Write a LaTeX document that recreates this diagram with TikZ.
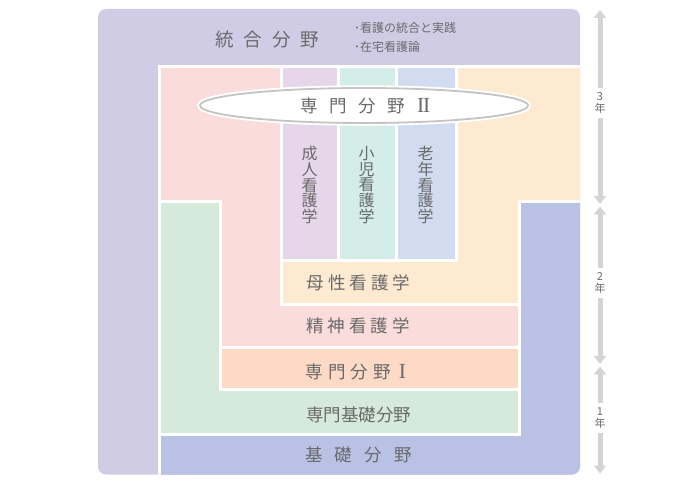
\documentclass[tikz,border=0pt]{standalone}
\usepackage{fontspec}
\setmainfont{Noto Sans CJK JP}
\newfontfamily\numserif{Liberation Serif}
\usetikzlibrary{arrows.meta,shapes.geometric}
\definecolor{lav}{HTML}{D1CCE6}
\definecolor{pinkc}{HTML}{FADCDB}
\definecolor{greenc}{HTML}{D6EADB}
\definecolor{bluec}{HTML}{B9C2E4}
\definecolor{peachc}{HTML}{FDEAD0}
\definecolor{orangec}{HTML}{FCDAC5}
\definecolor{colA}{HTML}{E6D6E9}
\definecolor{colB}{HTML}{D4EDE8}
\definecolor{colC}{HTML}{D2DCF1}
\definecolor{txt}{HTML}{6A6A6A}
\definecolor{ellgray}{HTML}{C4C4C4}
\definecolor{arrgray}{HTML}{D4D4D4}
\begin{document}
\begin{tikzpicture}[x=1pt,y=-1pt,
  area/.style={draw=white,line width=3pt,line join=miter},
  lbl/.style={text=txt,inner sep=0pt,font=\fontsize{17.5}{18}\selectfont},
  vtext/.style={text=txt,inner sep=0pt,align=center,font=\fontsize{16}{15.8}\selectfont},
  small/.style={text=txt,inner sep=0pt,anchor=west,font=\fontsize{12}{12}\selectfont},
  yr/.style={text=txt,inner sep=0pt,outer sep=5pt,align=center,font=\fontsize{11}{12}\selectfont},
  yarrow/.style={draw=arrgray,line width=5pt,-{Triangle[width=12pt,length=8pt]}}]
\useasboundingbox (0,0) rectangle (700,487);
% outer 統合分野 region
\fill[lav,rounded corners=8pt] (98,9) rectangle (580,474.5);
\begin{scope}
\clip[rounded corners=8pt] (98,9) rectangle (580,474.5);
% 基礎分野
\filldraw[area,fill=bluec] (159.5,434) -- (519.5,434) -- (519.5,201.5) -- (590,201.5) -- (590,485) -- (159.5,485) -- cycle;
% 専門基礎分野
\filldraw[area,fill=greenc] (159.5,201.5) -- (220.5,201.5) -- (220.5,389.5) -- (519.5,389.5) -- (519.5,434) -- (159.5,434) -- cycle;
% 専門分野I
\filldraw[area,fill=orangec] (220.5,347) rectangle (519.5,389.5);
% 精神看護学
\filldraw[area,fill=pinkc] (159.5,66) -- (281.5,66) -- (281.5,304.5) -- (519.5,304.5) -- (519.5,347) -- (220.5,347) -- (220.5,201.5) -- (159.5,201.5) -- cycle;
% 母性看護学
\filldraw[area,fill=peachc] (456.5,66) -- (590,66) -- (590,201.5) -- (519.5,201.5) -- (519.5,304.5) -- (281.5,304.5) -- (281.5,260.5) -- (456.5,260.5) -- cycle;
% columns
\filldraw[area,fill=colA] (281.5,66) rectangle (338,260.5);
\filldraw[area,fill=colB] (338,66) rectangle (396,260.5);
\filldraw[area,fill=colC] (396,66) rectangle (456.5,260.5);
\end{scope}
% texts
\node[text=txt,inner sep=0pt,font=\fontsize{18.5}{19}\selectfont] (togo) at (267.5,40) {統\hspace{10pt}合\hspace{10pt}分\hspace{10pt}野};
\node[small] (s1) at (354,28) {･看護の統合と実践};
\node[small] (s2) at (354,47) {･在宅看護論};
\node[ellipse,minimum width=328pt,minimum height=35pt,inner sep=0pt,fill=white,draw=ellgray,line width=1.8pt,
      preaction={draw=white,line width=5.5pt},text=txt,font=\fontsize{17.5}{18}\selectfont] (sen2) at (364,105.5)
      {\hspace{3pt}専\hspace{11.5pt}門\hspace{11.5pt}分\hspace{11.5pt}野\hspace{12pt}{\numserif\fontsize{21.5}{22}\selectfont I\kern-1.2pt I}};
\node[vtext] (seijin) at (309.5,185) {成\\人\\看\\護\\学};
\node[vtext] (shoni) at (366.5,185) {小\\児\\看\\護\\学};
\node[vtext] (ronen) at (425.5,185) {老\\年\\看\\護\\学};
\node[lbl] (bosei) at (358.5,283) {母\hspace{4pt}性\hspace{4pt}看\hspace{4pt}護\hspace{4pt}学};
\node[lbl] (seishin) at (358,326) {精\hspace{4pt}神\hspace{4pt}看\hspace{4pt}護\hspace{4pt}学};
\node[lbl] (sen1) at (356,371.5) {専\hspace{5pt}門\hspace{5pt}分\hspace{5pt}野\hspace{8pt}{\numserif\fontsize{21.5}{22}\selectfont I}};
\node[lbl] (senkiso) at (358.5,414.5) {専門基礎分野};
\node[lbl] (kiso) at (358.5,455) {基\hspace{12pt}礎\hspace{12pt}分\hspace{12pt}野};
% year arrows
\node[yr] (y3) at (600,103) {3\\年};
\node[yr] (y2) at (600,283) {2\\年};
\node[yr] (y1) at (600,418) {1\\年};
\coordinate (y3t) at (600,10);
\coordinate (y3b) at (600,204);
\coordinate (y2t) at (600,206.5);
\coordinate (y2b) at (600,364);
\coordinate (y1t) at (600,366.5);
\coordinate (y1b) at (600,473.5);
\draw[yarrow] (y3) -- (y3t);
\draw[yarrow] (y3) -- (y3b);
\draw[yarrow] (y2) -- (y2t);
\draw[yarrow] (y2) -- (y2b);
\draw[yarrow] (y1) -- (y1t);
\draw[yarrow] (y1) -- (y1b);
\end{tikzpicture}
\end{document}
